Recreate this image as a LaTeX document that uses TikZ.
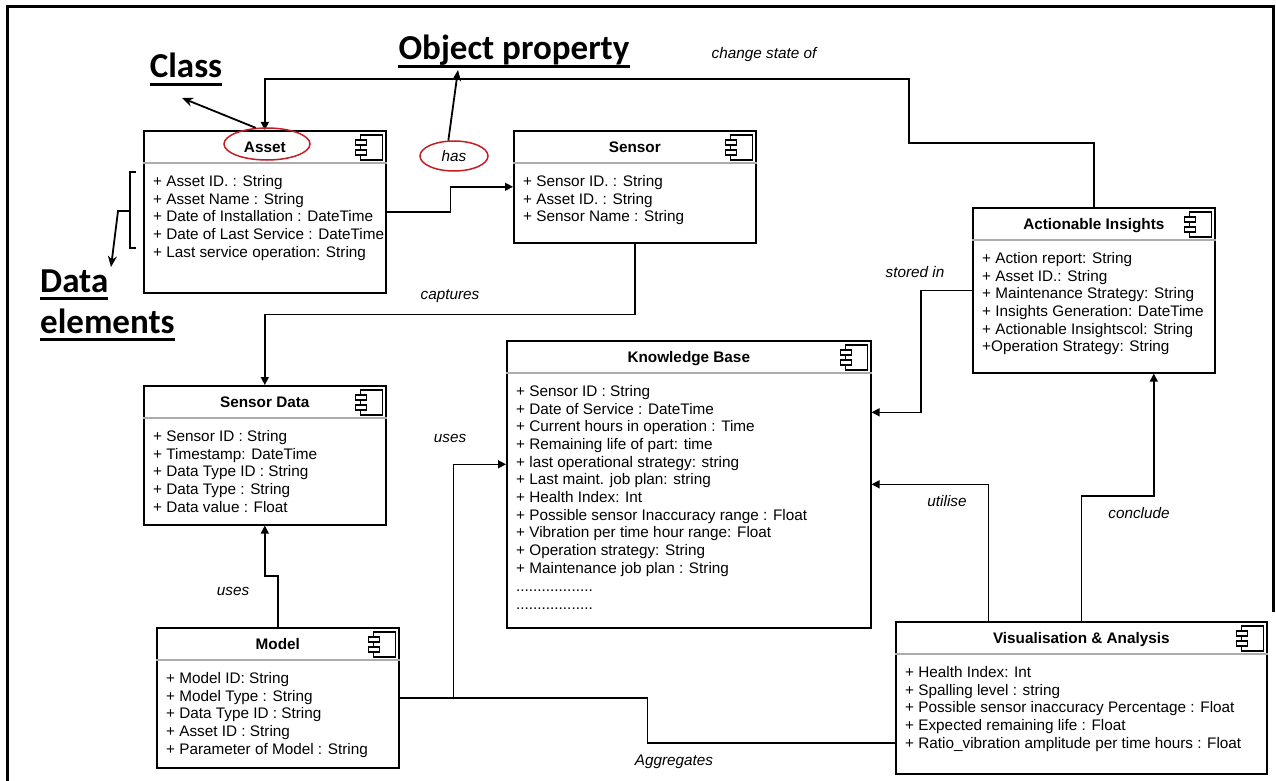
\documentclass[tikz,border=0pt]{standalone}
\usepackage{fontspec}
\setmainfont{Liberation Sans}
\newfontfamily\calib{Carlito}
\usetikzlibrary{arrows.meta,shapes.geometric}

\definecolor{ringred}{RGB}{196,30,36}

\tikzset{
  classbox/.style={draw, line width=1.6pt, fill=white, anchor=north west, inner sep=0pt},
  sepline/.style={draw=gray!65, line width=1.4pt},
  ctitle/.style={anchor=base, inner sep=0pt, font=\bfseries\fontsize{15.3}{18}\selectfont},
  attr/.style={anchor=base west, inner sep=0pt, font=\fontsize{15.3}{18}\selectfont},
  rel/.style={anchor=base, inner sep=0pt, font=\itshape\fontsize{15.3}{18}\selectfont},
  link/.style={line width=1.4pt, -{Triangle[length=8pt,width=8pt]}},
  plainlink/.style={line width=1.4pt},
  ring/.style={ellipse, draw=ringred, line width=1.5pt, inner sep=0pt},
  biglabel/.style={anchor=base, inner sep=0pt, font=\calib\bfseries\fontsize{35}{40}\selectfont},
  uline/.style={line width=3pt},
  pointer/.style={line width=1.8pt, -{Stealth[length=11pt,width=9pt]}},
  compicon/.pic={
    \draw[line width=1.1pt] (-22,0) rectangle (0,25);
    \draw[line width=1.1pt, fill=white] (-27,5) rectangle (-16,10);
    \draw[line width=1.1pt, fill=white] (-27,15) rectangle (-16,20);
  }
}

% attribute rows of a class box
\newcommand\attrlist[2]{%
  \foreach \t [count=\i] in {#2}
    \node[attr] (#1-\i) at ([xshift=10pt,yshift={-38.6pt-\i*17.7pt}]#1.north west) {\t};}

\begin{document}
\begin{tikzpicture}[x=1pt,y=-1pt]
\useasboundingbox (0,0) rectangle (1276,781);
% outline
\draw[line width=3pt] (7,781) -- (7,7) -- (1273,7) -- (1273,612);

% classes
\node[classbox, minimum width=242pt, minimum height=162pt] (asset) at (143,130) {};
\node[classbox, minimum width=242pt, minimum height=112pt] (sensor) at (513,130) {};
\node[classbox, minimum width=242pt, minimum height=165pt] (insights) at (972,207) {};
\node[classbox, minimum width=364pt, minimum height=287pt] (kb) at (506,340) {};
\node[classbox, minimum width=242pt, minimum height=139pt] (sdata) at (143,385) {};
\node[classbox, minimum width=242pt, minimum height=140pt] (model) at (156,627) {};
\node[classbox, minimum width=371pt, minimum height=152pt] (vis) at (895,621) {};

\foreach \b in {asset,sensor,insights,kb,sdata,model,vis} {
  \draw[sepline] ([yshift=-33pt]\b.north west) -- ([yshift=-33pt]\b.north east);
  \pic at ([xshift=-4pt,yshift=-5pt]\b.north east) {compicon};
}

\node[ctitle] (asset-t) at ([yshift=-22pt]asset.north) {Asset};
\node[ctitle] (sensor-t) at ([yshift=-22pt]sensor.north) {Sensor};
\node[ctitle] (insights-t) at ([yshift=-22pt]insights.north) {Actionable Insights};
\node[ctitle] (kb-t) at ([yshift=-22pt]kb.north) {Knowledge Base};
\node[ctitle] (sdata-t) at ([yshift=-22pt]sdata.north) {Sensor Data};
\node[ctitle] (model-t) at ([yshift=-22pt]model.north) {Model};
\node[ctitle] (vis-t) at ([yshift=-22pt]vis.north) {Visualisation \& Analysis};

\attrlist{asset}{+ Asset ID. : String, + Asset Name : String,
  + Date of Installation : DateTime, + Date of Last Service : DateTime,
  + Last service operation: String}
\attrlist{sensor}{+ Sensor ID. : String, + Asset ID. : String, + Sensor Name : String}
\attrlist{insights}{+ Action report: String, + Asset ID.: String,
  + Maintenance Strategy: String, + Insights Generation: DateTime,
  + Actionable Insightscol: String, +Operation Strategy: String}
\attrlist{kb}{+ Sensor ID : String, + Date of Service : DateTime,
  + Current hours in operation : Time, + Remaining life of part: time,
  + last operational strategy: string, + Last maint. job plan: string,
  + Health Index: Int, + Possible sensor Inaccuracy range : Float,
  + Vibration per time hour range: Float, + Operation strategy: String,
  + Maintenance job plan : String}
\node[attr] (kb-d1) at ([xshift=10pt,yshift=-251.7pt]kb.north west) {..................};
\node[attr] (kb-d2) at ([xshift=10pt,yshift=-269.4pt]kb.north west) {..................};
\attrlist{sdata}{+ Sensor ID : String, + Timestamp: DateTime, + Data Type ID : String,
  + Data Type : String, + Data value : Float}
\attrlist{model}{+ Model ID: String, + Model Type : String, + Data Type ID : String,
  + Asset ID : String, + Parameter of Model : String}
\attrlist{vis}{+ Health Index: Int, + Spalling level : string,
  + Possible sensor inaccuracy Percentage : Float, + Expected remaining life : Float,
  + Ratio\_vibration amplitude per time hours : Float}

% relations
\draw[link] (insights.north) -- ++(0,-64) -| (909,79) -| (asset.north);
\draw[link] (asset.east) -- ++(64,0) |- (sensor.west);
\draw[link] (sensor.south) -- ++(0,71) -| (sdata.north);
\draw[link] (insights.west) -- ++(-51,0) |- ([yshift=72pt]kb.east);
\draw[link] ([xshift=-93pt]vis.north) |- (kb.east);
\draw[link] (vis.north) -- ++(0,-125) -| ([xshift=60pt]insights.south);
\draw[link] (model.north) -- ++(0,-51) -| (sdata.south);
\draw[link] (model.east) -- ++(54,0) |- ([yshift=20pt]kb.west);
\draw[plainlink] (model.east) -- ++(248,0) |- ([yshift=-45pt]vis.west);

\node[rel] (lchange) at (764,59) {change state of};
\node[rel] (lcapt) at (450,299) {captures};
\node[rel] (lstored) at (915,277) {stored in};
\node[rel] (luses1) at (450,442) {uses};
\node[rel] (lutil) at (947,506) {utilise};
\node[rel] (lconc) at (1139,518) {conclude};
\node[rel] (luses2) at (233,595) {uses};
\node[rel] (laggr) at (674,765) {Aggregates};

% notes
\node[ring, minimum width=86pt, minimum height=32pt] (assetring) at (267,144) {};
\node[ring, minimum width=68pt, minimum height=30pt,
  font=\itshape\fontsize{15.3}{18}\selectfont] (hasring) at (454,156) {has};

\node[biglabel] (cls) at (186,78) {Class};
\node[biglabel] (objprop) at (514,60) {Object property};
\node[biglabel, anchor=base west] (dat) at (40,292) {Data};
\node[biglabel, anchor=base west] (elem) at (40,333) {elements};
\foreach \n in {cls,objprop,dat,elem}
  \draw[uline] ([yshift=-6.5pt]\n.base west) -- ([yshift=-6.5pt]\n.base east);

\coordinate (clstip) at (182,98);
\coordinate (optip) at (458,70);
\coordinate (brmid) at (130,211);
\coordinate (dattip) at (111,267);
\draw[pointer] (assetring.125) -- (clstip);
\draw[pointer] (hasring.110) -- (optip);
\draw[plainlink] (136,172) -- (130,172) -- (130,248) -- (136,248);
\draw[pointer] (brmid) -- (118,211) -- (dattip);
\end{tikzpicture}
\end{document}
